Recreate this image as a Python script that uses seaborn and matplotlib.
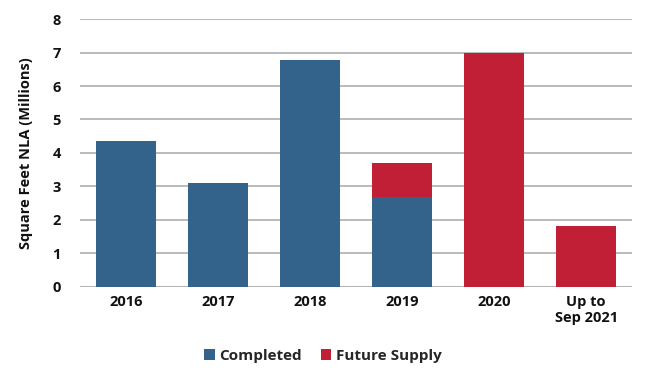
import numpy as np
import pandas as pd
import seaborn as sns
import matplotlib.pyplot as plt

years = ['2016', '2017', '2018', '2019', '2020', 'Up to\nSep 2021']
completed = [4.36, 3.1, 6.78, 2.69, 0, 0]
future_supply = [0, 0, 0, 1.0, 7.0, 1.83]

blue = '#33628A'
red = '#C01F35'

sns.set_theme(style='white')
plt.rcParams['font.family'] = ['Open Sans', 'DejaVu Sans']
plt.rcParams['font.weight'] = 'bold'

df = pd.DataFrame({'year': years, 'completed': completed,
                   'total': np.array(completed) + np.array(future_supply)})

fig = plt.figure(figsize=(6.51, 3.81), dpi=100)
ax = fig.add_axes([0.123, 0.247, 0.848, 0.703])

# stacked look: total in red, completed drawn over it in blue
sns.barplot(data=df, x='year', y='total', color=red, saturation=1, width=0.66,
            linewidth=0, edgecolor='none', ax=ax, label='Future Supply')
sns.barplot(data=df, x='year', y='completed', color=blue, saturation=1, width=0.66,
            linewidth=0, edgecolor='none', ax=ax, label='Completed')

ax.set_ylim(0, 8)
ax.set_yticks(range(0, 9))
ax.yaxis.grid(True, color='#b4b4b4', linewidth=1.3)
ax.set_axisbelow(True)
for s in ['top', 'right', 'left', 'bottom']:
    ax.spines[s].set_visible(False)
ax.axhline(0, color='#b4b4b4', linewidth=1.5, zorder=0)
ax.set_xlim(-0.5, 5.5)
ax.tick_params(axis='both', length=0, labelsize=10.5, colors='#111111')
ax.tick_params(axis='y', pad=14)
ax.tick_params(axis='x', pad=6)
for lbl in ax.get_xticklabels() + ax.get_yticklabels():
    lbl.set_fontweight('bold')
ax.set_xlabel('')
ax.set_ylabel('Square Feet NLA (Millions)', fontsize=10.5, fontweight='bold', color='#111111', labelpad=14)

handles, labels = ax.get_legend_handles_labels()
order = [labels.index('Completed'), labels.index('Future Supply')]
ax.legend([handles[i] for i in order], [labels[i] for i in order],
          loc='upper center', bbox_to_anchor=(0.44, -0.18), ncol=2, frameon=False,
          handlelength=0.7, handleheight=0.7, handletextpad=0.3, columnspacing=1.2,
          prop={'weight': 'bold', 'size': 11})

fig.savefig('out.png', dpi=100)
